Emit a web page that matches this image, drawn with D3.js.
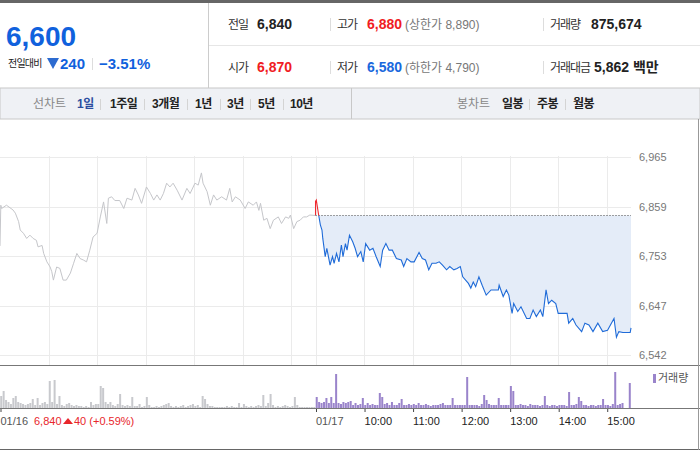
<!DOCTYPE html>
<html>
<head>
<meta charset="utf-8">
<script src="https://cdn.jsdelivr.net/npm/d3@7"></script>
<style>
body { margin: 0; background: #fff; }
svg { display: block; font-family: "Liberation Sans", Arial, "Noto Sans CJK KR", sans-serif; }
</style>
</head>
<body>
<script>
// 01/16 시세 [시각, 가격]
const day1Price = [
  ["09:00",6775],["09:01",6862],["09:02",6855],["09:08",6862],["09:16",6852],["09:19",6845],["09:23",6827],
  ["09:25",6809],["09:29",6802],["09:33",6791],["09:37",6798],["09:41",6791],["09:45",6787],["09:47",6773],
  ["09:52",6776],["09:54",6759],["09:58",6741],["10:02",6730],["10:04",6720],["10:06",6702],["10:10",6730],
  ["10:14",6727],["10:18",6702],["10:22",6702],["10:27",6717],["10:31",6738],["10:35",6759],["10:39",6748],
  ["10:43",6745],["10:47",6741],["10:51",6766],["10:55",6794],["11:00",6802],["11:04",6837],["11:08",6869],
  ["11:12",6823],["11:14",6877],["11:18",6880],["11:22",6872],["11:28",6872],["11:33",6855],["11:37",6877],
  ["11:43",6873],["11:47",6898],["11:51",6884],["11:55",6866],["12:01",6901],["12:06",6887],["12:10",6873],
  ["12:14",6884],["12:18",6873],["12:22",6887],["12:26",6909],["12:30",6901],["12:34",6909],["12:39",6894],
  ["12:45",6873],["12:51",6898],["12:55",6887],["13:01",6909],["13:05",6905],["13:09",6931],["13:11",6909],
  ["13:16",6891],["13:20",6862],["13:24",6884],["13:28",6873],["13:34",6880],["13:40",6873],["13:44",6898],
  ["13:47",6869],["13:51",6880],["13:57",6873],["14:03",6855],["14:07",6869],["14:13",6862],["14:17",6869],
  ["14:20",6851],["14:22",6866],["14:26",6830],["14:30",6834],["14:34",6812],["14:38",6830],["14:44",6837],
  ["14:48",6823],["14:53",6837],["14:57",6834],["14:59",6841],["15:03",6812],["15:07",6827],["15:11",6830],
  ["15:15",6837],["15:19",6837],["15:23",6841],["15:30",6840]
];

// 01/17 시세 [시각, 가격]
const day2Price = [
  ["09:00",6870],["09:01",6873],["09:04",6840],["09:06",6820],["09:08",6809],["09:09",6791],["09:12",6752],
  ["09:14",6770],["09:18",6734],["09:21",6752],["09:23",6738],["09:26",6759],["09:29",6741],["09:32",6777],
  ["09:34",6752],["09:37",6780],["09:39",6766],["09:42",6798],["09:46",6784],["09:49",6770],["09:52",6752],
  ["09:56",6763],["09:59",6741],["10:02",6780],["10:07",6766],["10:11",6770],["10:15",6752],["10:20",6731],
  ["10:23",6766],["10:27",6780],["10:31",6766],["10:35",6766],["10:40",6748],["10:46",6745],["10:49",6731],
  ["10:53",6748],["10:58",6741],["11:02",6741],["11:08",6761],["11:12",6748],["11:16",6745],["11:20",6724],
  ["11:24",6738],["11:29",6738],["11:33",6741],["11:37",6734],["11:42",6724],["11:46",6731],["11:51",6724],
  ["11:55",6727],["11:59",6731],["12:02",6709],["12:09",6695],["12:12",6685],["12:15",6698],["12:18",6688],
  ["12:22",6709],["12:26",6691],["12:31",6670],["12:37",6681],["12:46",6681],["12:47",6691],["12:52",6667],
  ["12:56",6681],["12:59",6670],["13:03",6631],["13:05",6652],["13:10",6635],["13:14",6645],["13:21",6620],
  ["13:25",6620],["13:29",6638],["13:33",6624],["13:38",6638],["13:41",6624],["13:45",6681],["13:48",6652],
  ["13:52",6659],["13:57",6652],["14:00",6631],["14:11",6631],["14:13",6610],["14:18",6620],["14:22",6606],
  ["14:29",6592],["14:33",6610],["14:38",6606],["14:43",6592],["14:49",6610],["14:55",6592],["15:01",6595],
  ["15:09",6620],["15:12",6580],["15:15",6592],["15:20",6590],["15:29",6590],["15:30",6600]
];

// 거래량 (3분 단위)
const day1Volume = [
  6000,8500,4000,3000,2000,5000,6000,3000,2500,2000, 1500,2000,2500,4500,1500,5000,1500,2500,3000,2000,
  13500,3000,14000,2000,6000,1500,1000,2000,2500,1500, 1000,1500,1000,1000,500,1000,500,3000,1500,2000,
  2000,11000,10000,3000,2000,3000,1500,1000,2000,7000, 1500,1000,1500,1000,5500,1000,1000,2000,500,1000,
  5500,1500,500,500,1000,500,1000,1500,2000,2500, 1000,500,1000,500,1000,1500,500,1000,1500,2000,
  1000,1500,500,6000,4500,2000,1000,1000,500,500, 500,500,500,1000,500,1000,500,500,2500,500,
  2000,1000,500,1000,500,1000,1500,1000,6500,1000, 2500,7000,1500,500,1000,500,1000,1500,1000,500,
  1000,5500,1500,500,500,500,500,500,500,500
];
const day2Volume = [
  5500,3000,2500,3000,5000,2500,5500,2500,17000,2500, 2000,3000,2500,3000,3500,1500,2500,1500,2000,5000,
  1500,2500,1500,2000,1500,1500,7500,5500,2000,2500, 1500,3000,1500,1500,2500,4500,1500,1500,2000,1500,
  2000,1500,2500,1500,1500,2000,1500,1000,1500,1500, 1500,2000,2500,1500,1500,1500,5000,1500,1500,1500,
  1500,1500,15500,1500,1500,1500,1500,1000,2000,6500, 4000,2000,1500,1500,1500,5000,1500,1500,1500,1500,
  11000,8500,1500,1500,2000,1500,1500,1000,2000,1500, 1500,1500,1000,1500,6000,1500,1000,1500,1500,1000,
  1500,1500,1500,1000,8000,1500,1500,2000,5500,3500, 1500,1500,1000,1500,1500,1000,1500,1500,4500,1500,
  1500,1000,2000,18000,1500,2000,2500,0,0,12500
];

const priceTicks = [6542, 6647, 6753, 6859, 6965];
const hourTicks = ["10:00", "11:00", "12:00", "13:00", "14:00", "15:00"];
const dayLabels = ["01/16", "01/17"];
const prevClose = 6840;

const quoteRow1 = [["전일", "6,840", "#222", ""], ["고가", "6,880", "#f01c23", "(상한가 8,890)"], ["거래량", "875,674", "#222", ""]];
const quoteRow2 = [["시가", "6,870", "#f01c23", ""], ["저가", "6,580", "#1a68dd", "(하한가 4,790)"], ["거래대금", "5,862 백만", "#222", ""]];
const lineTabs = ["1일", "1주일", "3개월", "1년", "3년", "5년", "10년"];
const candleTabs = ["일봉", "주봉", "월봉"];

const W = 700, H = 450;
const svg = d3.select("body").append("svg").attr("width", W).attr("height", H);

const toMin = t => { const [h, m] = t.split(":").map(Number); return (h - 9) * 60 + m; };
const SESSION = 390;

// 스케일
const x = d3.scaleLinear().domain([0, SESSION * 2]).range([0, 631]);
const y = d3.scaleLinear().domain([6542, 6965]).range([355, 157]);
const yv = d3.scaleLinear().domain([0, 21000]).range([408, 366]);

// ---- 상단 시세 영역 ----
svg.append("rect").attr("x", 0).attr("y", 0).attr("width", W).attr("height", 3).attr("fill", "#666");
svg.append("line").attr("x1", 208.5).attr("x2", 208.5).attr("y1", 3).attr("y2", 88).attr("stroke", "#ccc");
svg.append("line").attr("x1", 209).attr("x2", W).attr("y1", 45.5).attr("y2", 45.5).attr("stroke", "#e6e6e6");

svg.append("text").attr("x", 6).attr("y", 46).attr("fill", "#1061dd")
  .style("font-size", "28px").style("font-weight", "bold").text("6,600");
svg.append("text").attr("x", 8).attr("y", 67).attr("fill", "#222")
  .style("font-size", "10px").style("letter-spacing", "-0.8px").text("전일대비");
svg.append("path").attr("d", "M47,58L59,58L53,69Z").attr("fill", "#2d6bd0");
svg.append("text").attr("x", 60).attr("y", 69).attr("fill", "#1061dd")
  .style("font-size", "15px").style("font-weight", "bold").text("240");
svg.append("line").attr("x1", 92.5).attr("x2", 92.5).attr("y1", 58).attr("y2", 70).attr("stroke", "#ddd");
svg.append("text").attr("x", 99).attr("y", 69).attr("fill", "#1061dd")
  .style("font-size", "15px").style("font-weight", "bold").text("−3.51%");

const colX = [228, 337, 550];
const valX = [[257, 367, 591], [257, 367, 594]];
[quoteRow1, quoteRow2].forEach((row, r) => {
  const by = r === 0 ? 29 : 72;
  row.forEach((c, i) => {
    if (i > 0) svg.append("line").attr("x1", colX[i] - 6.5).attr("x2", colX[i] - 6.5)
      .attr("y1", by - 11).attr("y2", by + 2).attr("stroke", "#ddd");
    svg.append("text").attr("x", colX[i]).attr("y", by).attr("fill", "#333")
      .style("font-size", "12px").style("letter-spacing", "-1px").text(c[0]);
    svg.append("text").attr("x", valX[r][i]).attr("y", by).attr("fill", c[2])
      .style("font-size", "14px").style("font-weight", "bold").text(c[1]);
    if (c[3]) svg.append("text").attr("x", 405).attr("y", by).attr("fill", "#777")
      .style("font-size", "12px").text(c[3]);
  });
});

// ---- 탭 영역 ----
svg.append("rect").attr("x", 0).attr("y", 88).attr("width", W).attr("height", 31)
  .attr("fill", "#eff1f5").attr("stroke", "#c8c8c8");
svg.append("line").attr("x1", 351.5).attr("x2", 351.5).attr("y1", 88).attr("y2", 119).attr("stroke", "#c8c8c8");

function tabs(label, lx, items, xs, sepXs) {
  svg.append("text").attr("x", lx).attr("y", 108).attr("fill", "#888")
    .style("font-size", "12px").text(label);
  items.forEach((t, i) => {
    svg.append("text").attr("x", xs[i]).attr("y", 108)
      .attr("fill", label === "선차트" && i === 0 ? "#2c4ea0" : "#222")
      .style("font-size", "12px").style("font-weight", "bold").style("letter-spacing", "-0.5px").text(t);
  });
  sepXs.forEach(s => svg.append("line").attr("x1", s + .5).attr("x2", s + .5)
    .attr("y1", 99).attr("y2", 110).attr("stroke", "#d4d4d4"));
}
tabs("선차트", 33, lineTabs, [77, 110, 152, 195, 227, 258, 290], [100, 144, 187, 220, 250, 283]);
tabs("봉차트", 457, candleTabs, [502, 537, 573], [529, 565]);

// ---- 가격 차트 ----
const g = svg.append("g");

g.selectAll(".hgrid").data(priceTicks).enter().append("line")
  .attr("x1", 0).attr("x2", x(SESSION * 2))
  .attr("y1", d => Math.round(y(d)) + .5).attr("y2", d => Math.round(y(d)) + .5)
  .attr("stroke", "#ebebeb");

const gridMins = d3.range(60, SESSION, 60).concat([SESSION], hourTicks.map(t => SESSION + toMin(t)));
g.selectAll(".vgrid").data(gridMins).enter().append("line")
  .attr("x1", d => Math.round(x(d)) + .5).attr("x2", d => Math.round(x(d)) + .5)
  .attr("y1", 156).attr("y2", 365).attr("stroke", "#ebebeb");

const d1 = day1Price.map(d => ({ m: toMin(d[0]), p: d[1] }));
const d2 = day2Price.map(d => ({ m: SESSION + toMin(d[0]), p: d[1] }));
const d2full = [d1[d1.length - 1]].concat(d2);

// 전일 종가 대비 하락 영역
g.append("path").datum(d2full)
  .attr("d", d3.area().x(d => x(d.m)).y0(y(prevClose)).y1(d => y(Math.min(d.p, prevClose))))
  .attr("fill", "#e4ecf8");

g.append("line").attr("x1", x(SESSION)).attr("x2", x(SESSION * 2))
  .attr("y1", y(prevClose)).attr("y2", y(prevClose))
  .attr("stroke", "#444").attr("stroke-dasharray", "1,2");

const line = d3.line().x(d => x(d.m)).y(d => y(d.p));

g.append("path").datum(d1).attr("d", line)
  .attr("fill", "none").attr("stroke", "#c5c6ca").attr("stroke-width", 1);

const defs = svg.append("defs");
defs.append("clipPath").attr("id", "clipUp").append("rect")
  .attr("x", x(SESSION) - 1).attr("y", 150).attr("width", 330).attr("height", y(prevClose) - 150);
defs.append("clipPath").attr("id", "clipDown").append("rect")
  .attr("x", x(SESSION) - 1).attr("y", y(prevClose)).attr("width", 330).attr("height", 365 - y(prevClose));

g.append("path").datum(d2full).attr("d", line).attr("clip-path", "url(#clipDown)")
  .attr("fill", "none").attr("stroke", "#1f6bd8").attr("stroke-width", 1.1);
g.append("path").datum(d2full).attr("d", line).attr("clip-path", "url(#clipUp)")
  .attr("fill", "none").attr("stroke", "#f02a30").attr("stroke-width", 1.1);

// 가격 축
const yAxis = g.append("g").attr("transform", `translate(${x(SESSION * 2)},0)`)
  .call(d3.axisRight(y).tickValues(priceTicks).tickSize(0).tickPadding(8).tickFormat(d3.format(",")));
yAxis.select(".domain").remove();
yAxis.selectAll("text").attr("fill", "#777").style("font-size", "11px")
  .style("font-family", "Liberation Sans, Arial, sans-serif");

// ---- 거래량 ----
svg.append("line").attr("x1", 0).attr("x2", W).attr("y1", 365.5).attr("y2", 365.5).attr("stroke", "#777");

svg.selectAll(".v1").data(day1Volume).enter().append("rect")
  .attr("x", (d, i) => x(i * 3 + 1.5) - 1).attr("width", 2)
  .attr("y", d => yv(d)).attr("height", d => yv(0) - yv(d)).attr("fill", "#c8c9cd");
svg.selectAll(".v2").data(day2Volume).enter().append("rect")
  .attr("x", (d, i) => x(SESSION + i * 3 + 1.5) - 1).attr("width", 2)
  .attr("y", d => yv(d)).attr("height", d => yv(0) - yv(d)).attr("fill", "#9a84cb");

svg.append("rect").attr("x", 653).attr("y", 374).attr("width", 3).attr("height", 9).attr("fill", "#9a84cb");
svg.append("text").attr("x", 658).attr("y", 382).attr("fill", "#555")
  .style("font-size", "11px").text("거래량");

// 시간 축
const tickMins = [0, SESSION].concat(hourTicks.map(t => SESSION + toMin(t)));
const labelOf = m => m === 0 ? dayLabels[0] : m === SESSION ? dayLabels[1] : hourTicks[(m - SESSION) / 60 - 1];
const xAxis = svg.append("g").attr("transform", "translate(0,408)")
  .call(d3.axisBottom(x).tickValues(tickMins).tickSize(4).tickPadding(4).tickFormat(labelOf));
xAxis.select(".domain").remove();
xAxis.selectAll(".tick line").attr("stroke", "#444").attr("transform", "translate(0.5,0)");
xAxis.selectAll("text").attr("text-anchor", "start").attr("dy", "0.85em")
  .attr("fill", d => d === 0 || d === SESSION ? "#555" : "#222")
  .style("font-size", "11px").style("font-family", "Liberation Sans, Arial, sans-serif");
svg.append("line").attr("x1", 0).attr("x2", W).attr("y1", 408.5).attr("y2", 408.5).attr("stroke", "#777");

// 전일 종가 정보
svg.append("text").attr("x", 34).attr("y", 425).attr("fill", "#e8262b")
  .style("font-size", "11px").text("6,840");
svg.append("path").attr("d", "M63,424L68,418L73,424Z").attr("fill", "#e8262b");
svg.append("text").attr("x", 74).attr("y", 425).attr("fill", "#e8262b")
  .style("font-size", "11px").text("40 (+0.59%)");

// 테두리
svg.append("line").attr("x1", 0).attr("x2", W).attr("y1", 449.5).attr("y2", 449.5).attr("stroke", "#666");
svg.append("line").attr("x1", 698.5).attr("x2", 698.5).attr("y1", 119).attr("y2", 450).attr("stroke", "#999");
</script>
</body>
</html>
